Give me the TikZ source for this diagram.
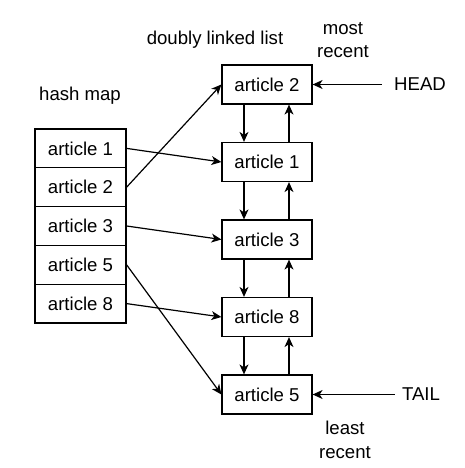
\documentclass[tikz,border=0pt]{standalone}
\usepackage{fontspec}
\setmainfont{Liberation Sans}
\usetikzlibrary{arrows.meta}
\tikzstyle{cell}=[draw, line width=1.2pt, minimum width=91pt, minimum height=38.8pt, inner sep=0pt]
\tikzstyle{item}=[draw, line width=1.2pt, minimum width=90pt, minimum height=39pt, inner sep=0pt]
\tikzstyle{arrow}=[line width=1.2pt, -{Stealth[length=10pt,width=9pt,inset=3pt]}]
\begin{document}
\begin{tikzpicture}[x=1pt,y=-1pt,font=\fontsize{18.6}{23.5}\selectfont]
\useasboundingbox (0,0) rectangle (464,468);
% hash map
\node[](hmap) at (80,96){hash map};
\node[cell](h1) at (80.5,148.4){article 1};
\node[cell](h2) at (80.5,187.2){article 2};
\node[cell](h3) at (80.5,226.0){article 3};
\node[cell](h4) at (80.5,264.8){article 5};
\node[cell](h8) at (80.5,303.6){article 8};
% doubly linked list
\node[](dll) at (215,40){doubly linked list};
\node[align=center](most) at (343,40){most\\recent};
\node[item](l2) at (267,84.5){article 2};
\node[item](l1) at (267,162){article 1};
\node[item](l3) at (267,239.5){article 3};
\node[item](l8) at (267,317){article 8};
\node[item](l5) at (267,394.5){article 5};
\node[align=center](least) at (345,440){least\\recent};
\node[](head) at (420,84.5){HEAD};
\node[](tail) at (421,394.5){TAIL};
% pointers
\draw[arrow] ([xshift=-9pt]head.west)--(l2.east);
\draw[arrow] ([xshift=-4pt]tail.west)--(l5.east);
\draw[arrow] (h1.east)--(l1.west);
\draw[arrow] (h2.east)--(l2.west);
\draw[arrow] (h3.east)--(l3.west);
\draw[arrow] (h4.east)--(l5.west);
\draw[arrow] (h8.east)--(l8.west);
% next / prev
\draw[arrow] ([xshift=-23pt]l2.south)--([xshift=-23pt]l1.north);
\draw[arrow] ([xshift=22pt]l1.north)--([xshift=22pt]l2.south);
\draw[arrow] ([xshift=-23pt]l1.south)--([xshift=-23pt]l3.north);
\draw[arrow] ([xshift=22pt]l3.north)--([xshift=22pt]l1.south);
\draw[arrow] ([xshift=-23pt]l3.south)--([xshift=-23pt]l8.north);
\draw[arrow] ([xshift=22pt]l8.north)--([xshift=22pt]l3.south);
\draw[arrow] ([xshift=-23pt]l8.south)--([xshift=-23pt]l5.north);
\draw[arrow] ([xshift=22pt]l5.north)--([xshift=22pt]l8.south);
\end{tikzpicture}
\end{document}
